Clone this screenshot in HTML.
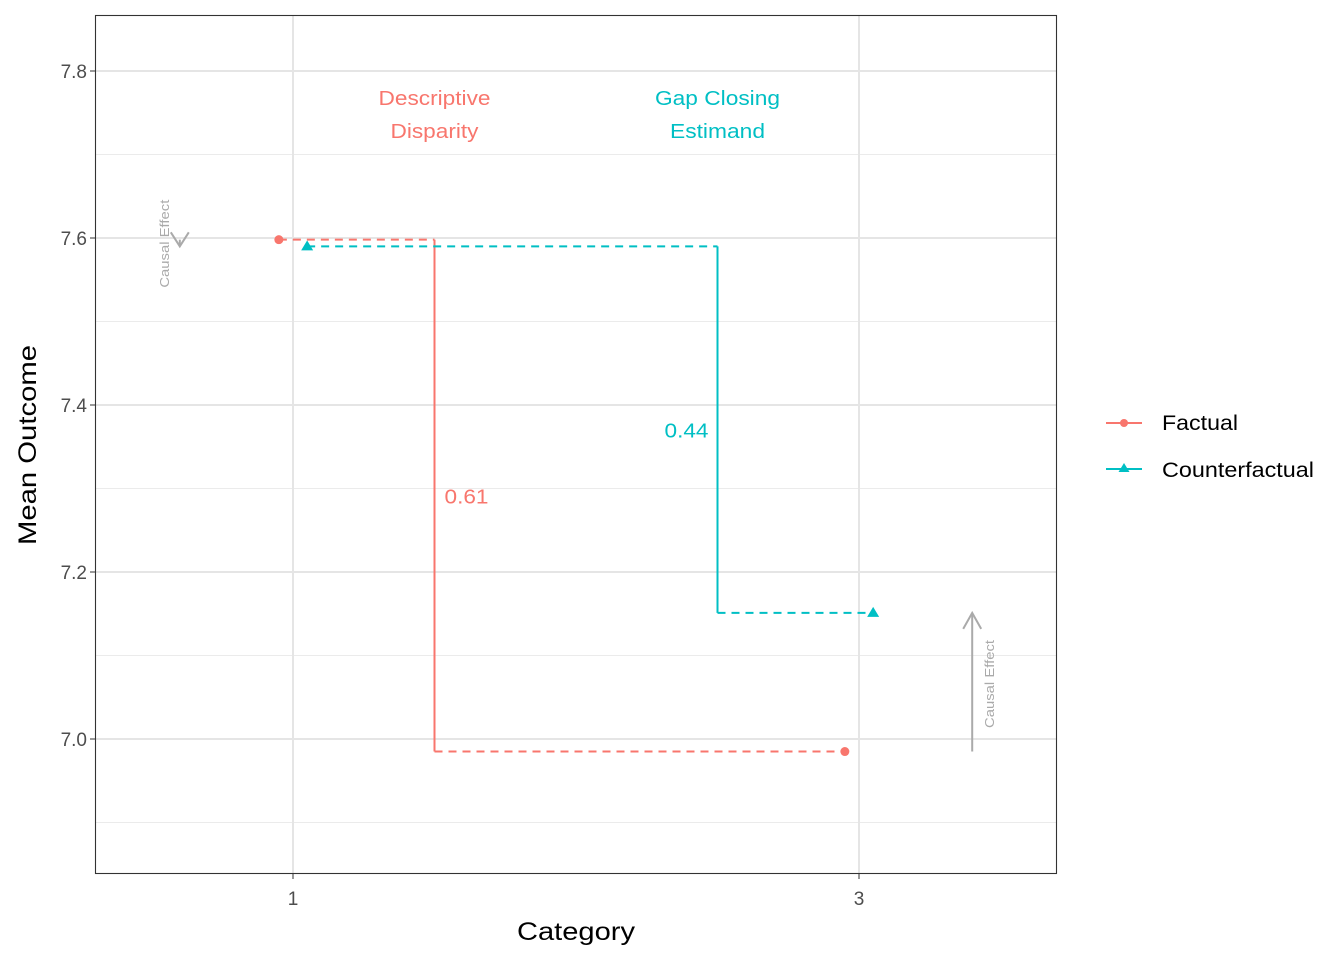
<!DOCTYPE html>
<html><head><meta charset="utf-8"><style>body{margin:0;background:#fff}svg{display:block;font-family:"Liberation Sans",Arial,sans-serif}</style></head>
<body>
<svg id="chart" width="1344" height="960" viewBox="0 0 1344 960" xmlns="http://www.w3.org/2000/svg">
<rect width="1344" height="960" fill="#fff"/>
<g id="grid"></g>
<g id="marks"></g>
<rect x="95.5" y="15.5" width="961" height="858" fill="none" stroke="#333" stroke-width="1.1"/>
<g id="axes" font-size="19" fill="#4d4d4d"></g>
<text x="517" y="940" font-size="25" textLength="118" lengthAdjust="spacingAndGlyphs" fill="#000">Category</text>
<text transform="translate(36,545) rotate(-90)" font-size="25" textLength="200" lengthAdjust="spacingAndGlyphs" fill="#000">Mean Outcome</text>
<g>
 <g>
  <line x1="1106" y1="423" x2="1142" y2="423" stroke="#F8766D" stroke-width="2"/><circle cx="1124" cy="423" r="4" fill="#F8766D"/>
  <text x="1162" y="430" font-size="21" textLength="76" lengthAdjust="spacingAndGlyphs">Factual</text></g>
 <g>
  <line x1="1106" y1="469" x2="1142" y2="469" stroke="#00BFC4" stroke-width="2"/><polygon points="1124,463 1129.5,472 1118.5,472" fill="#00BFC4"/>
  <text x="1162" y="477" font-size="21" textLength="152" lengthAdjust="spacingAndGlyphs">Counterfactual</text></g>
</g>
<script>
const xTicks=[1,3];
const yTicks=[7.0,7.2,7.4,7.6,7.8];
const yMinor=[6.9,7.1,7.3,7.5,7.7];
const factualX=[0.95,2.95];
const factualY=[7.598,6.985];
const counterX=[1.05,3.05];
const counterY=[7.59,7.151];
const disparityX=1.5, gapX=2.5;
const disparityLabel="0.61", gapLabel="0.44";
const X=v=>293+(v-1)*283;
const Y=v=>739-(v-7.0)*835;
const NS="http://www.w3.org/2000/svg";
function mk(parent,tag,attrs,name,text){const e=document.createElementNS(NS,tag);for(const k in attrs)e.setAttribute(k,attrs[k]);


if(text!==undefined)e.textContent=text;document.getElementById(parent).appendChild(e);return e;}
yMinor.forEach(v=>mk('grid','line',{x1:96,x2:1056,y1:Y(v),y2:Y(v),stroke:'#ebebeb','stroke-width':1},'minor-gridline'));
yTicks.forEach(v=>{mk('grid','line',{x1:96,x2:1056,y1:Y(v),y2:Y(v),stroke:'#e5e5e5','stroke-width':2},'major-gridline');
 mk('axes','line',{x1:90,x2:95,y1:Y(v),y2:Y(v),stroke:'#333','stroke-width':1},'y-tick');
 mk('axes','text',{x:87,y:Y(v)+7,'text-anchor':'end'},'y-tick-label',v.toFixed(1));});
xTicks.forEach(v=>{mk('grid','line',{x1:X(v),x2:X(v),y1:16,y2:873,stroke:'#e5e5e5','stroke-width':2},'major-gridline');
 mk('axes','line',{x1:X(v),x2:X(v),y1:874,y2:879,stroke:'#333','stroke-width':1},'x-tick');
 mk('axes','text',{x:X(v),y:905,'text-anchor':'middle'},'x-tick-label',String(v));});
const R='#F8766D',T='#00BFC4',G='#aaaaaa';
mk('marks','line',{x1:X(factualX[0]),x2:X(disparityX),y1:Y(factualY[0]),y2:Y(factualY[0]),stroke:R,'stroke-width':2,'stroke-dasharray':'8,6'},'factual-line-cat1');
mk('marks','line',{x1:X(disparityX),x2:X(factualX[1]),y1:Y(factualY[1]),y2:Y(factualY[1]),stroke:R,'stroke-width':2,'stroke-dasharray':'8,6'},'factual-line-cat3');
mk('marks','line',{x1:X(disparityX),x2:X(disparityX),y1:Y(factualY[0]),y2:Y(factualY[1]),stroke:R,'stroke-width':2},'disparity-segment');
mk('marks','line',{x1:X(counterX[0]),x2:X(gapX),y1:Y(counterY[0]),y2:Y(counterY[0]),stroke:T,'stroke-width':2,'stroke-dasharray':'8,6'},'counterfactual-line-cat1');
mk('marks','line',{x1:X(gapX),x2:X(counterX[1]),y1:Y(counterY[1]),y2:Y(counterY[1]),stroke:T,'stroke-width':2,'stroke-dasharray':'8,6'},'counterfactual-line-cat3');
mk('marks','line',{x1:X(gapX),x2:X(gapX),y1:Y(counterY[0]),y2:Y(counterY[1]),stroke:T,'stroke-width':2},'gap-segment');
factualX.forEach((x,i)=>mk('marks','circle',{cx:X(x),cy:Y(factualY[i]),r:4.5,fill:R},'factual-point'));
counterX.forEach((x,i)=>{const cx=X(x),cy=Y(counterY[i]);mk('marks','polygon',{points:`${cx},${cy-6} ${cx+6},${cy+4} ${cx-6},${cy+4}`,fill:T},'counterfactual-point');});
mk('marks','text',{x:X(disparityX)+10,y:(Y(factualY[0])+Y(factualY[1]))/2+8,fill:R,'font-size':20,textLength:44,lengthAdjust:'spacingAndGlyphs'},'disparity-value',disparityLabel);
mk('marks','text',{x:X(gapX)-9,y:(Y(counterY[0])+Y(counterY[1]))/2+8,fill:T,'font-size':20,'text-anchor':'end',textLength:44,lengthAdjust:'spacingAndGlyphs'},'gap-value',gapLabel);
function ann(x,y,txt,w,col,name){mk('marks','text',{x:x-w/2,y:y,fill:col,'font-size':20,textLength:w,lengthAdjust:'spacingAndGlyphs'},name,txt);}
ann(X(disparityX),105,'Descriptive',112,R,'descriptive-disparity-label');
ann(X(disparityX),138,'Disparity',88,R,'descriptive-disparity-label');
ann(X(gapX),105,'Gap Closing',125,T,'gap-closing-label');
ann(X(gapX),138,'Estimand',95,T,'gap-closing-label');
const lx=X(0.6),ly1=Y(factualY[0]),ly2=Y(counterY[0]);
mk('marks','line',{x1:lx,x2:lx,y1:ly1,y2:ly2,stroke:G,'stroke-width':2},'causal-effect-arrow-cat1');
mk('marks','polyline',{points:`${lx-9},${ly2-14} ${lx},${ly2} ${lx+9},${ly2-14}`,fill:'none',stroke:G,'stroke-width':2},'causal-effect-arrowhead-cat1');
mk('marks','text',{transform:`translate(${lx-11},${ly1+48}) rotate(-90)`,fill:G,'font-size':13,textLength:88,lengthAdjust:'spacingAndGlyphs'},'causal-effect-label-cat1','Causal Effect');
const rx=X(3.4),ry1=Y(factualY[1]),ry2=Y(counterY[1]);
mk('marks','line',{x1:rx,x2:rx,y1:ry1,y2:ry2,stroke:G,'stroke-width':2},'causal-effect-arrow-cat3');
mk('marks','polyline',{points:`${rx-9},${ry2+16} ${rx},${ry2} ${rx+9},${ry2+16}`,fill:'none',stroke:G,'stroke-width':2},'causal-effect-arrowhead-cat3');
mk('marks','text',{transform:`translate(${rx+22},728) rotate(-90)`,fill:G,'font-size':13,textLength:88,lengthAdjust:'spacingAndGlyphs'},'causal-effect-label-cat3','Causal Effect');
</script>
</svg>
</body></html>
